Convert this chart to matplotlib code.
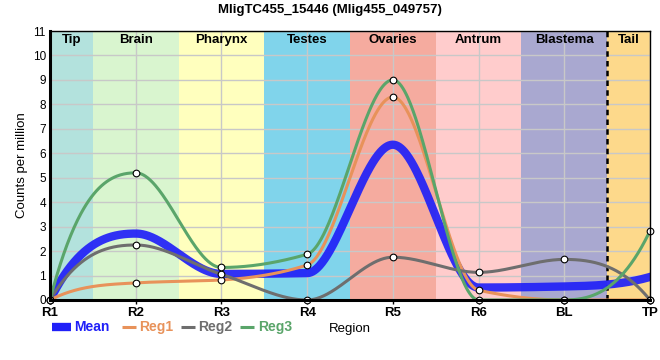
import numpy as np
import matplotlib
matplotlib.use("Agg")
import matplotlib.pyplot as plt
from matplotlib.lines import Line2D

plt.rcParams["font.family"] = ["Liberation Sans", "DejaVu Sans"]

# ------------------------------------------------------------
# data
# ------------------------------------------------------------
regions = ["R1", "R2", "R3", "R4", "R5", "R6", "BL", "TP"]
reg1 = [0, 0.70, 0.82, 1.43, 8.30, 0.40, 0, 0]
reg2 = [0, 2.25, 1.05, 0, 1.75, 1.13, 1.66, 0]
reg3 = [0, 5.20, 1.33, 1.87, 9.00, 0, 0, 2.83]

band_names = ["Tip", "Brain", "Pharynx", "Testes", "Ovaries", "Antrum", "Blastema", "Tail"]
band_edges = [0, 0.5, 1.5, 2.5, 3.5, 4.5, 5.5, 6.5, 7]
band_colors = ["#b3e2dd", "#d9f5cf", "#ffffbe", "#80d4eb", "#f5ab9f",
               "#ffcccc", "#a9a8d0", "#fdd98b"]

mean_vals = np.mean([reg1, reg2, reg3], axis=0)

C_MEAN = "#2020f8"
C_REG = ["#e8925a", "#6e6e6e", "#5aa56a"]


def smooth(x, y, xs, end_k=2.6):
    # monotone cubic (flat at local extremes), steeper free ends
    x = np.asarray(x, float)
    y = np.asarray(y, float)
    h = np.diff(x)
    d = np.diff(y) / h
    n = len(x)
    m = np.zeros(n)
    for k in range(1, n - 1):
        if d[k - 1] * d[k] > 0:
            w1 = 2 * h[k] + h[k - 1]
            w2 = h[k] + 2 * h[k - 1]
            m[k] = (w1 + w2) / (w1 / d[k - 1] + w2 / d[k])
    m[0] = end_k * d[0]
    m[-1] = end_k * d[-1]
    idx = np.clip(np.searchsorted(x, xs) - 1, 0, n - 2)
    t = (xs - x[idx]) / h[idx]
    h00 = 2 * t**3 - 3 * t**2 + 1
    h10 = t**3 - 2 * t**2 + t
    h01 = -2 * t**3 + 3 * t**2
    h11 = t**3 - t**2
    return (h00 * y[idx] + h10 * h[idx] * m[idx]
            + h01 * y[idx + 1] + h11 * h[idx] * m[idx + 1])


xpos = np.arange(len(regions))
xs = np.linspace(0, len(regions) - 1, 700)

fig = plt.figure(figsize=(6.6, 3.6), dpi=100)
ax = fig.add_axes([50 / 660, 60 / 360, 600 / 660, 269 / 360])

for i, name in enumerate(band_names):
    ax.axvspan(band_edges[i], band_edges[i + 1], color=band_colors[i], zorder=0.2, lw=0)
    ax.text((band_edges[i] + band_edges[i + 1]) / 2, 10.62, name, ha="center", va="center",
            fontsize=9.5, fontweight="bold", zorder=5)

ax.set_axisbelow(True)
ax.grid(True, color="#c8c8c8", lw=1)
ax.axvline(6.5, color="black", ls=(0, (2.2, 1.7)), lw=1.8, zorder=3)

series = list(zip(["Reg1", "Reg2", "Reg3"], [reg1, reg2, reg3], C_REG))

ax.plot(xs, smooth(xpos, mean_vals, xs), color=C_MEAN, lw=6, zorder=3.2, alpha=0.92)
for name, vals, col in series:
    ax.plot(xs, smooth(xpos, vals, xs), color=col, lw=2.2, zorder=3.5)
for name, vals, col in series:
    ax.plot(xpos, vals, "o", ms=4.8, mfc="white", mec="black", mew=0.8, zorder=6, clip_on=False)

ax.set_xlim(0, 7)
ax.set_ylim(0, 11)
ax.set_xticks(xpos)
ax.set_xticklabels(regions, fontsize=9.5, fontweight="bold")
ax.set_yticks(range(12))
ax.tick_params(axis="y", length=0, labelsize=8.5, pad=3)
ax.tick_params(axis="x", length=3, width=1, pad=2)
ax.set_ylabel("Counts per million", fontsize=9.5, labelpad=3)
ax.set_xlabel("Region", fontsize=9.5, labelpad=3)
for side in ["left", "bottom"]:
    ax.spines[side].set_linewidth(2.2)
for side in ["top", "right"]:
    ax.spines[side].set_linewidth(1.0)
for sp in ax.spines.values():
    sp.set_zorder(7)

fig.text(330 / 660, 1 - 10 / 360, "MligTC455_15446 (Mlig455_049757)", ha="center", va="center",
         fontsize=9.5, fontweight="bold")

# legend along the bottom, laid out in pixels like the original
leg_y = 1 - 327 / 360
items = [("Mean", C_MEAN, 6, 52, 71, 74),
         ("Reg1", C_REG[0], 2.2, 122, 136, 139),
         ("Reg2", C_REG[1], 2.2, 181, 195, 198),
         ("Reg3", C_REG[2], 2.2, 240, 254, 258)]
for label, col, lw, x0, x1, tx in items:
    fig.add_artist(Line2D([x0 / 660, x1 / 660], [leg_y, leg_y], color=col, lw=lw,
                          transform=fig.transFigure, solid_capstyle="butt"))
    fig.text(tx / 660, leg_y, label, color=col, fontsize=10, fontweight="bold",
             ha="left", va="center")

fig.savefig("out.png", dpi=100)
